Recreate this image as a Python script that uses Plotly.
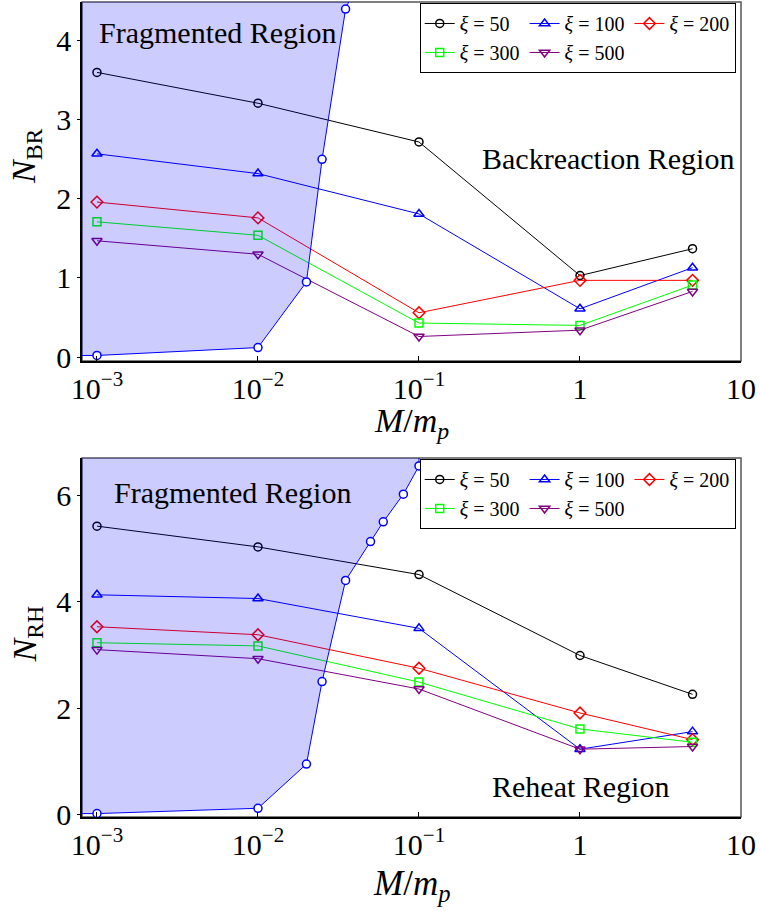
import plotly.graph_objects as go

# ---- data ---------------------------------------------------------------
mass = [1e-3, 1e-2, 1e-1, 1.0, 5.0]           # M / m_p
xi_labels = ["50", "100", "200", "300", "500"]

# backreaction number of e-folds, N_BR
n_br = {
    "50":  [3.60, 3.21, 2.72, 1.03, 1.37],
    "100": [2.57, 2.32, 1.81, 0.61, 1.13],
    "200": [1.96, 1.76, 0.56, 0.97, 0.97],
    "300": [1.71, 1.54, 0.43, 0.40, 0.91],
    "500": [1.47, 1.30, 0.26, 0.34, 0.83],
}

# reheating number of e-folds, N_RH
n_rh = {
    "50":  [5.42, 5.03, 4.51, 2.99, 2.26],
    "100": [4.13, 4.06, 3.50, 1.23, 1.56],
    "200": [3.53, 3.38, 2.75, 1.91, 1.41],
    "300": [3.23, 3.17, 2.49, 1.61, 1.36],
    "500": [3.10, 2.93, 2.36, 1.23, 1.28],
}

# fragmentation boundary
frag_m = [1e-3, 1e-2, 0.02, 0.025, 0.035, 0.05, 0.06, 0.08, 0.1]
frag_n = [0.02, 0.12, 0.95, 2.50, 4.40, 5.13, 5.50, 6.02, 6.55]

x_ticks = [1e-3, 1e-2, 1e-1, 1, 10]
x_ticktext = ["10<sup>−3</sup>", "10<sup>−2</sup>", "10<sup>−1</sup>", "1", "10"]

# ---- styling ------------------------------------------------------------
FONT = "Liberation Serif"
styles = {
    "50":  dict(color="#000000", symbol="circle-open", size=8),
    "100": dict(color="#0000FF", symbol="triangle-up-open", size=9),
    "200": dict(color="#FF0000", symbol="diamond-open", size=9),
    "300": dict(color="#00FF00", symbol="square-open", size=8),
    "500": dict(color="#800080", symbol="triangle-down-open", size=9),
}
groups = {"50": "a", "300": "a", "100": "b", "500": "b", "200": "c"}

fig = go.Figure()


def add_panel(values, xa, ya, legend, suffix):
    for key in xi_labels:
        st = styles[key]
        fig.add_trace(go.Scatter(
            x=mass, y=values[key], xaxis=xa, yaxis=ya,
            mode="lines+markers",
            name=f"<i>ξ</i> = {key}",
            legend=legend, legendgroup=groups[key] + suffix,
            line=dict(color=st["color"], width=1),
            marker=dict(symbol=st["symbol"], size=st["size"], color=st["color"],
                        line=dict(color=st["color"], width=1.5)),
        ))
    # shaded fragmented region: boundary closed off beyond the left / top edges
    poly_x = [frag_m[0] / 10] + frag_m + [frag_m[-1], frag_m[0] / 10]
    poly_y = [frag_n[0]] + frag_n + [100, 100]
    fig.add_trace(go.Scatter(
        x=poly_x, y=poly_y, xaxis=xa, yaxis=ya, mode="lines",
        fill="toself", fillcolor="rgba(0,0,255,0.2)",
        line=dict(color="#0000FF", width=1), showlegend=False, hoverinfo="skip",
    ))
    fig.add_trace(go.Scatter(
        x=frag_m, y=frag_n, xaxis=xa, yaxis=ya, mode="markers",
        marker=dict(symbol="circle", size=8, color="white",
                    line=dict(color="#0000FF", width=1.5)),
        showlegend=False, hoverinfo="skip",
    ))


add_panel(n_br, "x", "y", "legend", "1")
add_panel(n_rh, "x2", "y2", "legend2", "2")

tick_font = dict(family=FONT, size=30, color="black")

xaxis_common = dict(
    type="log", range=[-3.093, 1.0], tickvals=x_ticks, ticktext=x_ticktext,
    ticks="inside", ticklen=5, tickcolor="black", showgrid=False, zeroline=False,
    showline=True, linecolor="black", linewidth=1.5, tickfont=tick_font,
)
yaxis_common = dict(
    ticks="outside", ticklen=3, tickcolor="black", showgrid=False, zeroline=False,
    showline=True, linecolor="black", linewidth=1.5, tickfont=tick_font,
)

legend_common = dict(
    orientation="h", traceorder="grouped", tracegroupgap=0, itemwidth=30,
    bgcolor="white", bordercolor="black", borderwidth=1,
    font=dict(family=FONT, size=20, color="black"),
    xanchor="right", yanchor="top", x=0.992,
)

fig.update_layout(
    width=760, height=911,
    margin=dict(l=82, r=19, t=2, b=94),
    paper_bgcolor="white", plot_bgcolor="white",
    font=dict(family=FONT, color="black"),
    xaxis=dict(domain=[0, 1], anchor="y", **xaxis_common),
    yaxis=dict(domain=[0.5595, 1], anchor="x", range=[-0.05, 4.49],
               tickvals=[0, 1, 2, 3, 4], **yaxis_common),
    xaxis2=dict(domain=[0, 1], anchor="y2", **xaxis_common),
    yaxis2=dict(domain=[0, 0.4405], anchor="x2", range=[-0.044, 6.70],
                tickvals=[0, 2, 4, 6], **yaxis_common),
    legend=dict(y=0.9988, **legend_common),
    legend2=dict(y=0.4393, **legend_common),
    showlegend=True,
)

# frame on the top / right sides of each panel
for xa, ya in (("x", "y"), ("x2", "y2")):
    fig.add_shape(type="rect", xref=f"{xa} domain", yref=f"{ya} domain",
                  x0=0, x1=1, y0=0, y1=1, layer="below",
                  line=dict(color="#555555", width=1.5))

# region labels
region_font = dict(family=FONT, size=30, color="black")
regions = [
    ("Fragmented Region", "x", "y", 0.206, 0.914),
    ("Backreaction Region", "x", "y", 0.798, 0.565),
    ("Fragmented Region", "x2", "y2", 0.229, 0.9025),
    ("Reheat Region", "x2", "y2", 0.756, 0.0836),
]
for text, xa, ya, ax, ay in regions:
    fig.add_annotation(text=text, xref=f"{xa} domain", yref=f"{ya} domain",
                       x=ax, y=ay, showarrow=False, font=region_font,
                       xanchor="center", yanchor="middle")

# axis titles
x_title = "<i>M</i>/<i>m</i><sub><i>p</i></sub>"
axis_titles = [
    (x_title, "x", "y", 0.5, -0.172, 0, 34),
    (x_title, "x2", "y2", 0.5, -0.19, 0, 35),
    ("<i>N</i><sub>BR</sub>", "x", "y", -0.084, 0.57, -90, 34),
    ("<i>N</i><sub>RH</sub>", "x2", "y2", -0.084, 0.51, -90, 34),
]
for text, xa, ya, ax, ay, ang, size in axis_titles:
    fig.add_annotation(text=text, xref=f"{xa} domain", yref=f"{ya} domain",
                       x=ax, y=ay, showarrow=False, textangle=ang,
                       font=dict(family=FONT, size=size, color="black"),
                       xanchor="center", yanchor="middle")

fig.write_html("out.html")
